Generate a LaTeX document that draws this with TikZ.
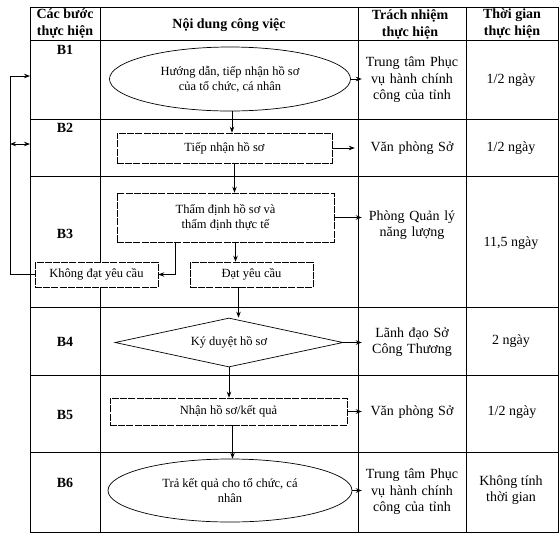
\documentclass[tikz,border=0pt]{standalone}
\usepackage{fontspec}
\setmainfont{Liberation Serif}
\usetikzlibrary{positioning, arrows.meta, shapes.geometric}
\newcommand{\flowfont}{\fontsize{12.5}{15}\selectfont}
\newcommand{\cellfont}{\fontsize{14}{16.5}\selectfont}
\newcommand{\headfont}{\fontsize{14}{17}\selectfont\bfseries}
\tikzset{
  grid line/.style={line width=0.9pt},
  link/.style={line width=0.8pt},
  head cell/.style={inner sep=0pt, align=center, font=\headfont},
  step label/.style={inner sep=0pt, font=\headfont},
  resp cell/.style={inner sep=0pt, text width=100pt, align=center, font=\cellfont},
  time cell/.style={inner sep=0pt, align=center, font=\cellfont},
  flow box/.style={rectangle, draw, fill=white, line width=0.6pt, dash pattern=on 7pt off 1.2pt,
    inner sep=0pt, align=center, font=\flowfont},
  flow oval/.style={ellipse, draw, fill=white, line width=0.7pt, inner sep=0pt, align=center, font=\flowfont},
  flow diamond/.style={diamond, aspect=4.6, draw, fill=white, line width=0.7pt, inner sep=0pt,
    align=center, font=\flowfont},
}
\begin{document}
\begin{tikzpicture}[x=1pt, y=-1pt, >={Stealth[length=6pt, width=4.5pt]}]
  \useasboundingbox (0,0) rectangle (560,539);

  % Table
  \draw[grid line] (30,7) rectangle (558,532);
  \foreach \x in {100,358,466} {
    \draw[grid line] (\x,7) -- (\x,532);
  }
  \foreach \y in {40,119,176,307,375,452} {
    \draw[grid line] (30,\y) -- (558,\y);
  }

  % Header
  \node[head cell] (h1) at (65,24) {Các bước\\thực hiện};
  \node[head cell] (h2) at (229,25) {Nội dung công việc};
  \node[head cell] (h3) at (410,24) {Trách nhiệm\\thực hiện};
  \node[head cell] (h4) at (512,24) {Thời gian\\thực hiện};

  % Steps
  \node[step label] (s1) at (65,50) {B1};
  \node[step label] (s2) at (65,128) {B2};
  \node[step label] (s3) at (65,234) {B3};
  \node[step label] (s4) at (65,342) {B4};
  \node[step label] (s5) at (65,415) {B5};
  \node[step label] (s6) at (65,483) {B6};

  % Flow
  \node[flow oval, minimum width=241pt, minimum height=64pt] (b1) at (230,79) {Hướng dẫn, tiếp nhận hồ sơ\\của tổ chức, cá nhân};
  \node[flow box, minimum width=215pt, minimum height=30pt] (b2) at (224.5,148) {Tiếp nhận hồ sơ};
  \node[flow box, minimum width=217pt, minimum height=49pt] (b3) at (225.5,217.5) {Thẩm định hồ sơ và\\thẩm định thực tế};
  \node[flow box, minimum width=123pt, minimum height=25pt] (fail) at (96.5,274.5) {Không đạt yêu cầu};
  \node[flow box, minimum width=123pt, minimum height=25pt] (pass) at (251.5,274.5) {Đạt yêu cầu};
  \node[flow diamond, minimum width=228pt, minimum height=49pt] (b4) at (229,342.5) {Ký duyệt hồ sơ};
  \node[flow box, minimum width=237pt, minimum height=27pt] (b5) at (228.5,411.5) {Nhận hồ sơ/kết quả};
  \node[flow oval, minimum width=244pt, minimum height=63pt] (b6) at (230,490.5) {Trả kết quả cho tổ chức, cá\\nhân};

  % Responsibility
  \node[resp cell] (r1) at (412,80) {Trung tâm Phục\\vụ hành chính\\công của tỉnh};
  \node[resp cell] (r2) at (412,148) {Văn phòng Sở};
  \node[resp cell] (r3) at (412,225) {Phòng Quản lý\\năng lượng};
  \node[resp cell] (r4) at (412,342) {Lãnh đạo Sở\\Công Thương};
  \node[resp cell] (r5) at (412,412) {Văn phòng Sở};
  \node[resp cell] (r6) at (412,492) {Trung tâm Phục\\vụ hành chính\\công của tỉnh};

  % Time
  \node[time cell] (t1) at (511,80) {1/2 ngày};
  \node[time cell] (t2) at (511,148) {1/2 ngày};
  \node[time cell] (t3) at (511,243) {11,5 ngày};
  \node[time cell] (t4) at (511,341) {2 ngày};
  \node[time cell] (t5) at (512,412) {1/2 ngày};
  \node[time cell] (t6) at (511,490) {Không tính\\thời gian};

  % Arrows down
  \draw[link, ->] ([xshift=2pt]b1.south) -- ([xshift=2pt]b1.south |- b2.north);
  \draw[link, ->] ([xshift=10pt]b2.south) -- ([xshift=10pt]b2.south |- b3.north);
  \draw[link, ->] ([xshift=10pt]b3.south) -- ([xshift=10pt]b3.south |- pass.north);
  \draw[link, ->] ([xshift=-50pt]b3.south) |- (fail.east);
  \draw[link, ->] ([xshift=-13pt]pass.south) -- ([xshift=-13pt]pass.south |- b4.north);
  \draw[link, ->] (b4.south) -- (b4.south |- b5.north);
  \draw[link, ->] ([xshift=4pt]b5.south) -- ([xshift=4pt]b5.south |- b6.north);

  % Arrows right
  \draw[link, ->] (b1.east) -- (b1.east -| r1.west);
  \draw[link, ->] (b2.east) -- ([xshift=-7pt]b2.east -| r2.west);
  \draw[link, ->] (b3.east) -- (b3.east -| r3.west);
  \draw[link, ->] (b4.east) -- (b4.east -| r4.west);
  \draw[link, ->] (b5.east) -- (b5.east -| r5.west);
  \draw[link, ->] (b6.east) -- (b6.east -| r6.west);

  % Loop back
  \coordinate (loop top) at (10,76);
  \coordinate (entry) at (30,76);
  \coordinate (entry two) at (30,144);
  \draw[link, ->] (fail.west) -| (loop top) -- (entry);
  \draw[link, <->] (loop top |- entry two) -- (entry two);
\end{tikzpicture}
\end{document}
